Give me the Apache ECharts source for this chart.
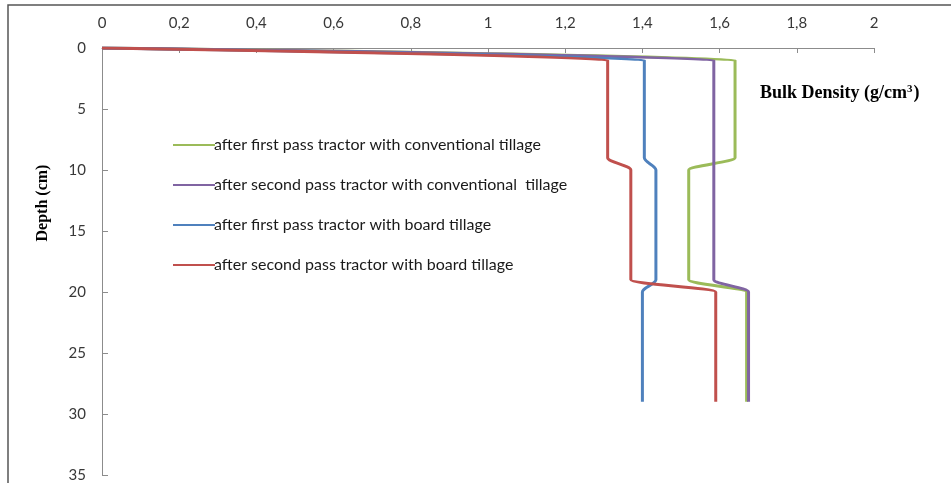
<!DOCTYPE html>
<html>
<head>
<meta charset="utf-8">
<title>Bulk density profiles</title>
<script src="https://cdn.jsdelivr.net/npm/echarts@6/dist/echarts.min.js"></script>
<style>
  html, body { margin: 0; padding: 0; background: #fff; }
  #chart { width: 951px; height: 483px; }
</style>
</head>
<body>
<div id="chart"></div>
<script>
// Sampling depths (cm)
const depths = [0, 1, 9, 10, 19, 20, 29];

// Bulk density (g/cm3) at each depth
const firstPassConventional  = [0, 1.64, 1.64, 1.52, 1.52, 1.67, 1.67];
const secondPassConventional = [0, 1.585, 1.585, 1.585, 1.585, 1.675, 1.675];
const firstPassBoard         = [0, 1.405, 1.405, 1.435, 1.435, 1.40, 1.40];
const secondPassBoard        = [0, 1.31, 1.31, 1.37, 1.37, 1.59, 1.59];

const seriesNames = [
  'after first pass tractor with conventional tillage',
  'after second pass tractor with conventional  tillage',
  'after first pass tractor with board tillage',
  'after second pass tractor with board tillage'
];
const seriesValues = [firstPassConventional, secondPassConventional, firstPassBoard, secondPassBoard];
const seriesColors = ['#9BBB59', '#8064A2', '#4F81BD', '#C0504D'];

const xTicks = { min: 0, max: 2, interval: 0.2 };
const yTicks = { min: 0, max: 35, interval: 5 };

const chart = echarts.init(document.getElementById('chart'));

const labelFont = { fontFamily: 'Lato', fontSize: 15, color: '#383838' };

chart.setOption({
  animation: false,
  backgroundColor: '#fff',
  grid: { left: 102, right: 77, top: 48, bottom: 8, containLabel: false },
  legend: {
    orient: 'vertical',
    left: 168,
    top: 130,
    icon: 'rect',
    itemWidth: 42,
    itemHeight: 2,
    itemGap: 20,
    textStyle: { fontFamily: 'Lato', fontSize: 16, color: '#1a1a1a', lineHeight: 20, padding: [0, 0, 0, -6] },
    data: seriesNames
  },
  xAxis: {
    type: 'value',
    position: 'top',
    min: xTicks.min,
    max: xTicks.max,
    interval: xTicks.interval,
    axisLine: { show: true, lineStyle: { color: '#8c8c8c', width: 1 } },
    axisTick: { show: true, inside: true, length: 5, lineStyle: { color: '#8c8c8c' } },
    splitLine: { show: false },
    axisLabel: Object.assign({ margin: 17, formatter: v => String(+v.toFixed(1)).replace('.', ',') }, labelFont)
  },
  yAxis: {
    type: 'value',
    inverse: true,
    min: yTicks.min,
    max: yTicks.max,
    interval: yTicks.interval,
    axisLine: { show: true, lineStyle: { color: '#8c8c8c', width: 1 } },
    axisTick: { show: true, inside: true, length: 6, lineStyle: { color: '#8c8c8c' } },
    splitLine: { show: false },
    axisLabel: Object.assign({ margin: 16 }, labelFont)
  },
  graphic: [
    {
      type: 'rect',
      silent: true,
      shape: { x: 8, y: 5, width: 1200, height: 1000 },
      style: { fill: 'none', stroke: '#555', lineWidth: 1.5 }
    },
    {
      type: 'text',
      x: 43,
      y: 203,
      rotation: Math.PI / 2,
      style: {
        text: 'Depth (cm)',
        font: 'bold 16px "Liberation Serif"',
        fill: '#000',
        align: 'center',
        verticalAlign: 'middle'
      }
    },
    {
      type: 'text',
      x: 760,
      y: 93,
      style: {
        text: '{t|Bulk Density (g/cm}{s|3}{t|)}',
        fill: '#000',
        align: 'left',
        verticalAlign: 'middle',
        rich: {
          t: { fontFamily: 'Liberation Serif', fontWeight: 'bold', fontSize: 18, fill: '#000' },
          s: { fontFamily: 'Liberation Serif', fontWeight: 'bold', fontSize: 11, fill: '#000', verticalAlign: 'top', padding: [0, 1, 6, 0] }
        }
      }
    }
  ],
  series: seriesNames.map((name, i) => ({
    name: name,
    type: 'line',
    data: depths.map((d, k) => [seriesValues[i][k], d]),
    showSymbol: false,
    smooth: 0.35,
    smoothMonotone: 'y',
    lineStyle: { color: seriesColors[i], width: 3 },
    itemStyle: { color: seriesColors[i] }
  }))
});
</script>
</body>
</html>
